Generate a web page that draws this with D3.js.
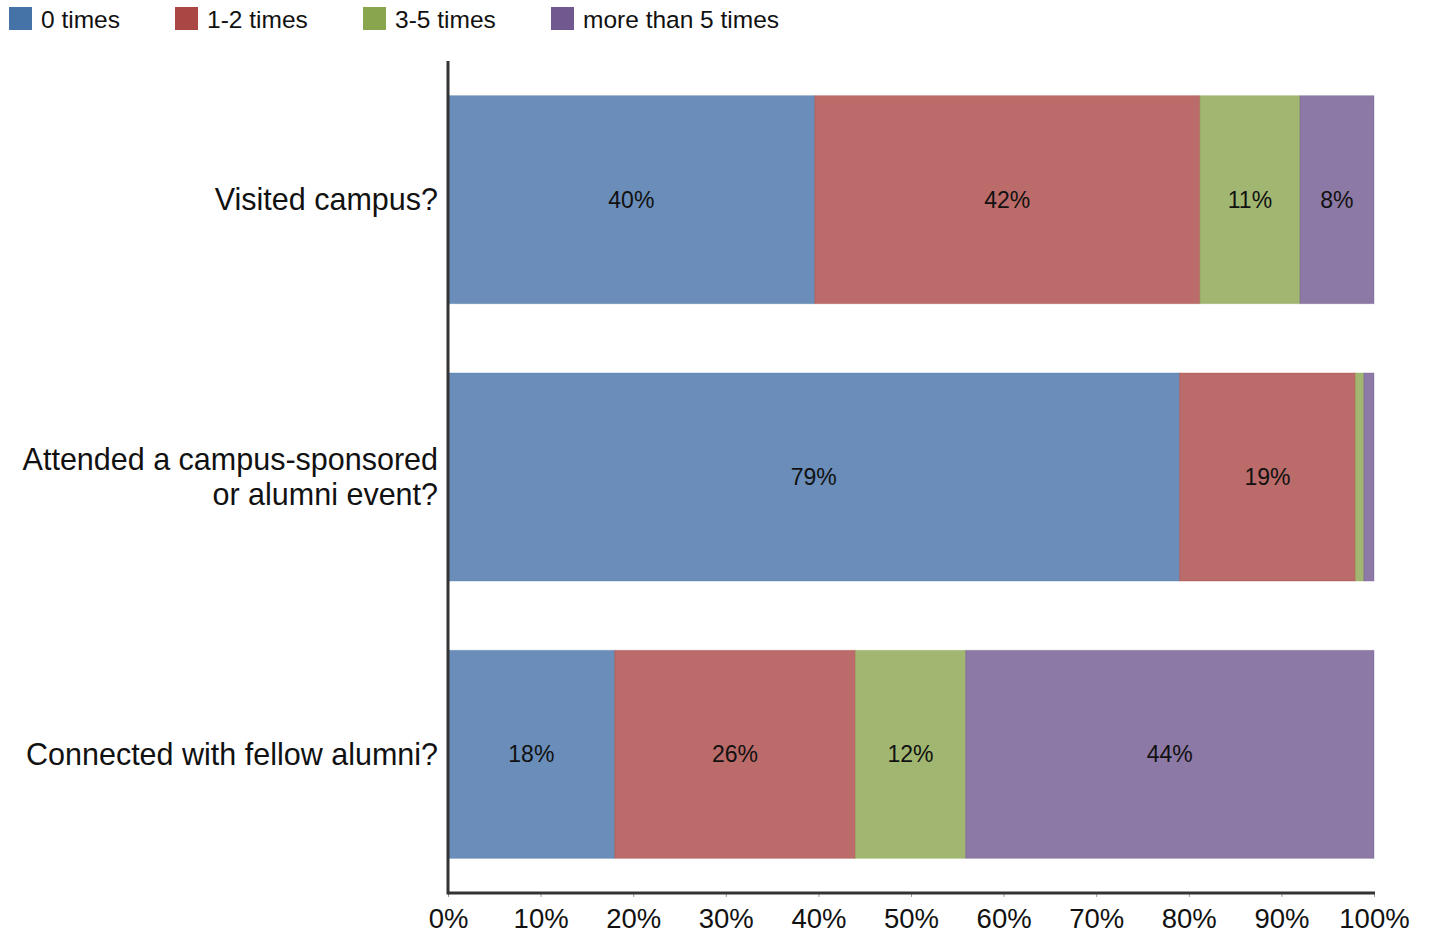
<!DOCTYPE html>
<html>
<head>
<meta charset="utf-8">
<script src="https://cdn.jsdelivr.net/npm/d3@7"></script>
<style>
  body { margin: 0; background: #fff; }
  svg { display: block; font-family: "Liberation Sans", Arial, sans-serif; }
</style>
</head>
<body>
<div id="vis"></div>
<script>
// Data ----------------------------------------------------------------------

const CATEGORIES = [
    ["Visited campus?"],
    ["Attended a campus-sponsored", "or alumni event?"],
    ["Connected with fellow alumni?"]
];
const SERIES = ["0 times", "1-2 times", "3-5 times", "more than 5 times"];
const COLORS = ["#4572a7", "#aa4643", "#89a54e", "#71588f"];

// percent per category, one array per series
const ZERO = [39.6, 79.0, 18.0];
const ONE_TWO = [41.6, 19.0, 26.0];
const THREE_FIVE = [10.8, 0.9, 11.9];
const MORE_FIVE = [8.0, 1.1, 44.1];
const LABELS = [
    ["40%", "79%", "18%"],
    ["42%", "19%", "26%"],
    ["11%", "", "12%"],
    ["8%", "", "44%"]
];
const TICKS = [0, 10, 20, 30, 40, 50, 60, 70, 80, 90, 100];

// Chart ---------------------------------------------------------------------

const W = 1431, H = 936;
const margin = {top: 61, right: 57, bottom: 43, left: 448};
const width = W - margin.left - margin.right;
const height = H - margin.top - margin.bottom;

const svg = d3.select("#vis").append("svg")
    .attr("width", W)
    .attr("height", H);

const vis = svg.append("g")
    .attr("transform", `translate(${margin.left},${margin.top})`);

const values = [ZERO, ONE_TWO, THREE_FIVE, MORE_FIVE];
const rows = CATEGORIES.map((c, i) => {
    const r = {idx: i};
    SERIES.forEach((s, j) => r[s] = values[j][i]);
    return r;
});
const stacked = d3.stack().keys(SERIES)(rows);

const xscale = d3.scaleLinear().domain([0, 100]).range([0, width]);
const yscale = d3.scaleBand()
    .domain(d3.range(CATEGORIES.length))
    .range([0, height])
    .paddingInner(0.25)
    .paddingOuter(0.125);

// Bars
stacked.forEach((layer, j) => {
    const g = vis.append("g");
    g.selectAll("rect")
        .data(layer)
        .enter()
        .append("rect")
        .attr("x", d => xscale(d[0]))
        .attr("y", (d, i) => yscale(i))
        .attr("width", d => xscale(d[1]) - xscale(d[0]))
        .attr("height", yscale.bandwidth())
        .attr("fill", COLORS[j])
        .attr("fill-opacity", 0.8)
        .attr("stroke", COLORS[j])
        .attr("stroke-opacity", 0.35)
        .attr("stroke-width", 1);

    g.selectAll("text")
        .data(layer)
        .enter()
        .append("text")
        .attr("x", d => xscale((d[0] + d[1]) / 2))
        .attr("y", (d, i) => yscale(i) + yscale.bandwidth() / 2)
        .attr("dy", "0.35em")
        .attr("text-anchor", "middle")
        .attr("font-size", 23)
        .attr("fill", "#111")
        .text((d, i) => LABELS[j][i]);
});

// X axis
const xaxis = d3.axisBottom(xscale)
    .tickValues(TICKS)
    .tickFormat(d => d + "%")
    .tickSize(4)
    .tickPadding(11);

const gx = vis.append("g")
    .attr("transform", `translate(0,${height})`)
    .call(xaxis);
gx.select(".domain").remove();
gx.selectAll(".tick line").attr("stroke", "#999");
gx.selectAll(".tick text")
    .attr("font-size", 27.5)
    .attr("fill", "#111")
    .attr("font-family", "'Liberation Sans', Arial, sans-serif");

// Axis lines
vis.append("line")
    .attr("x1", 0).attr("x2", width + 1)
    .attr("y1", height).attr("y2", height)
    .attr("stroke", "#333").attr("stroke-width", 3);
vis.append("line")
    .attr("x1", 0).attr("x2", 0)
    .attr("y1", 0).attr("y2", height + 1.5)
    .attr("stroke", "#333").attr("stroke-width", 3);

// Category labels
const cat = vis.append("g");
CATEGORIES.forEach((lines, i) => {
    const cy = yscale(i) + yscale.bandwidth() / 2;
    const lh = 35;
    const t = cat.append("text")
        .attr("text-anchor", "end")
        .attr("font-size", 30.5)
        .attr("fill", "#111");
    lines.forEach((l, k) => {
        t.append("tspan")
            .attr("x", -10)
            .attr("y", cy + (k - (lines.length - 1) / 2) * lh)
            .attr("dy", "0.35em")
            .text(l);
    });
});

// Legend
const legendX = [9, 175, 363, 551];
const legend = svg.append("g");
SERIES.forEach((s, j) => {
    legend.append("rect")
        .attr("x", legendX[j]).attr("y", 7)
        .attr("width", 23).attr("height", 23)
        .attr("fill", COLORS[j]);
    legend.append("text")
        .attr("x", legendX[j] + 32).attr("y", 19)
        .attr("dy", "0.35em")
        .attr("font-size", 24.5)
        .attr("fill", "#111")
        .text(s);
});
</script>
</body>
</html>
